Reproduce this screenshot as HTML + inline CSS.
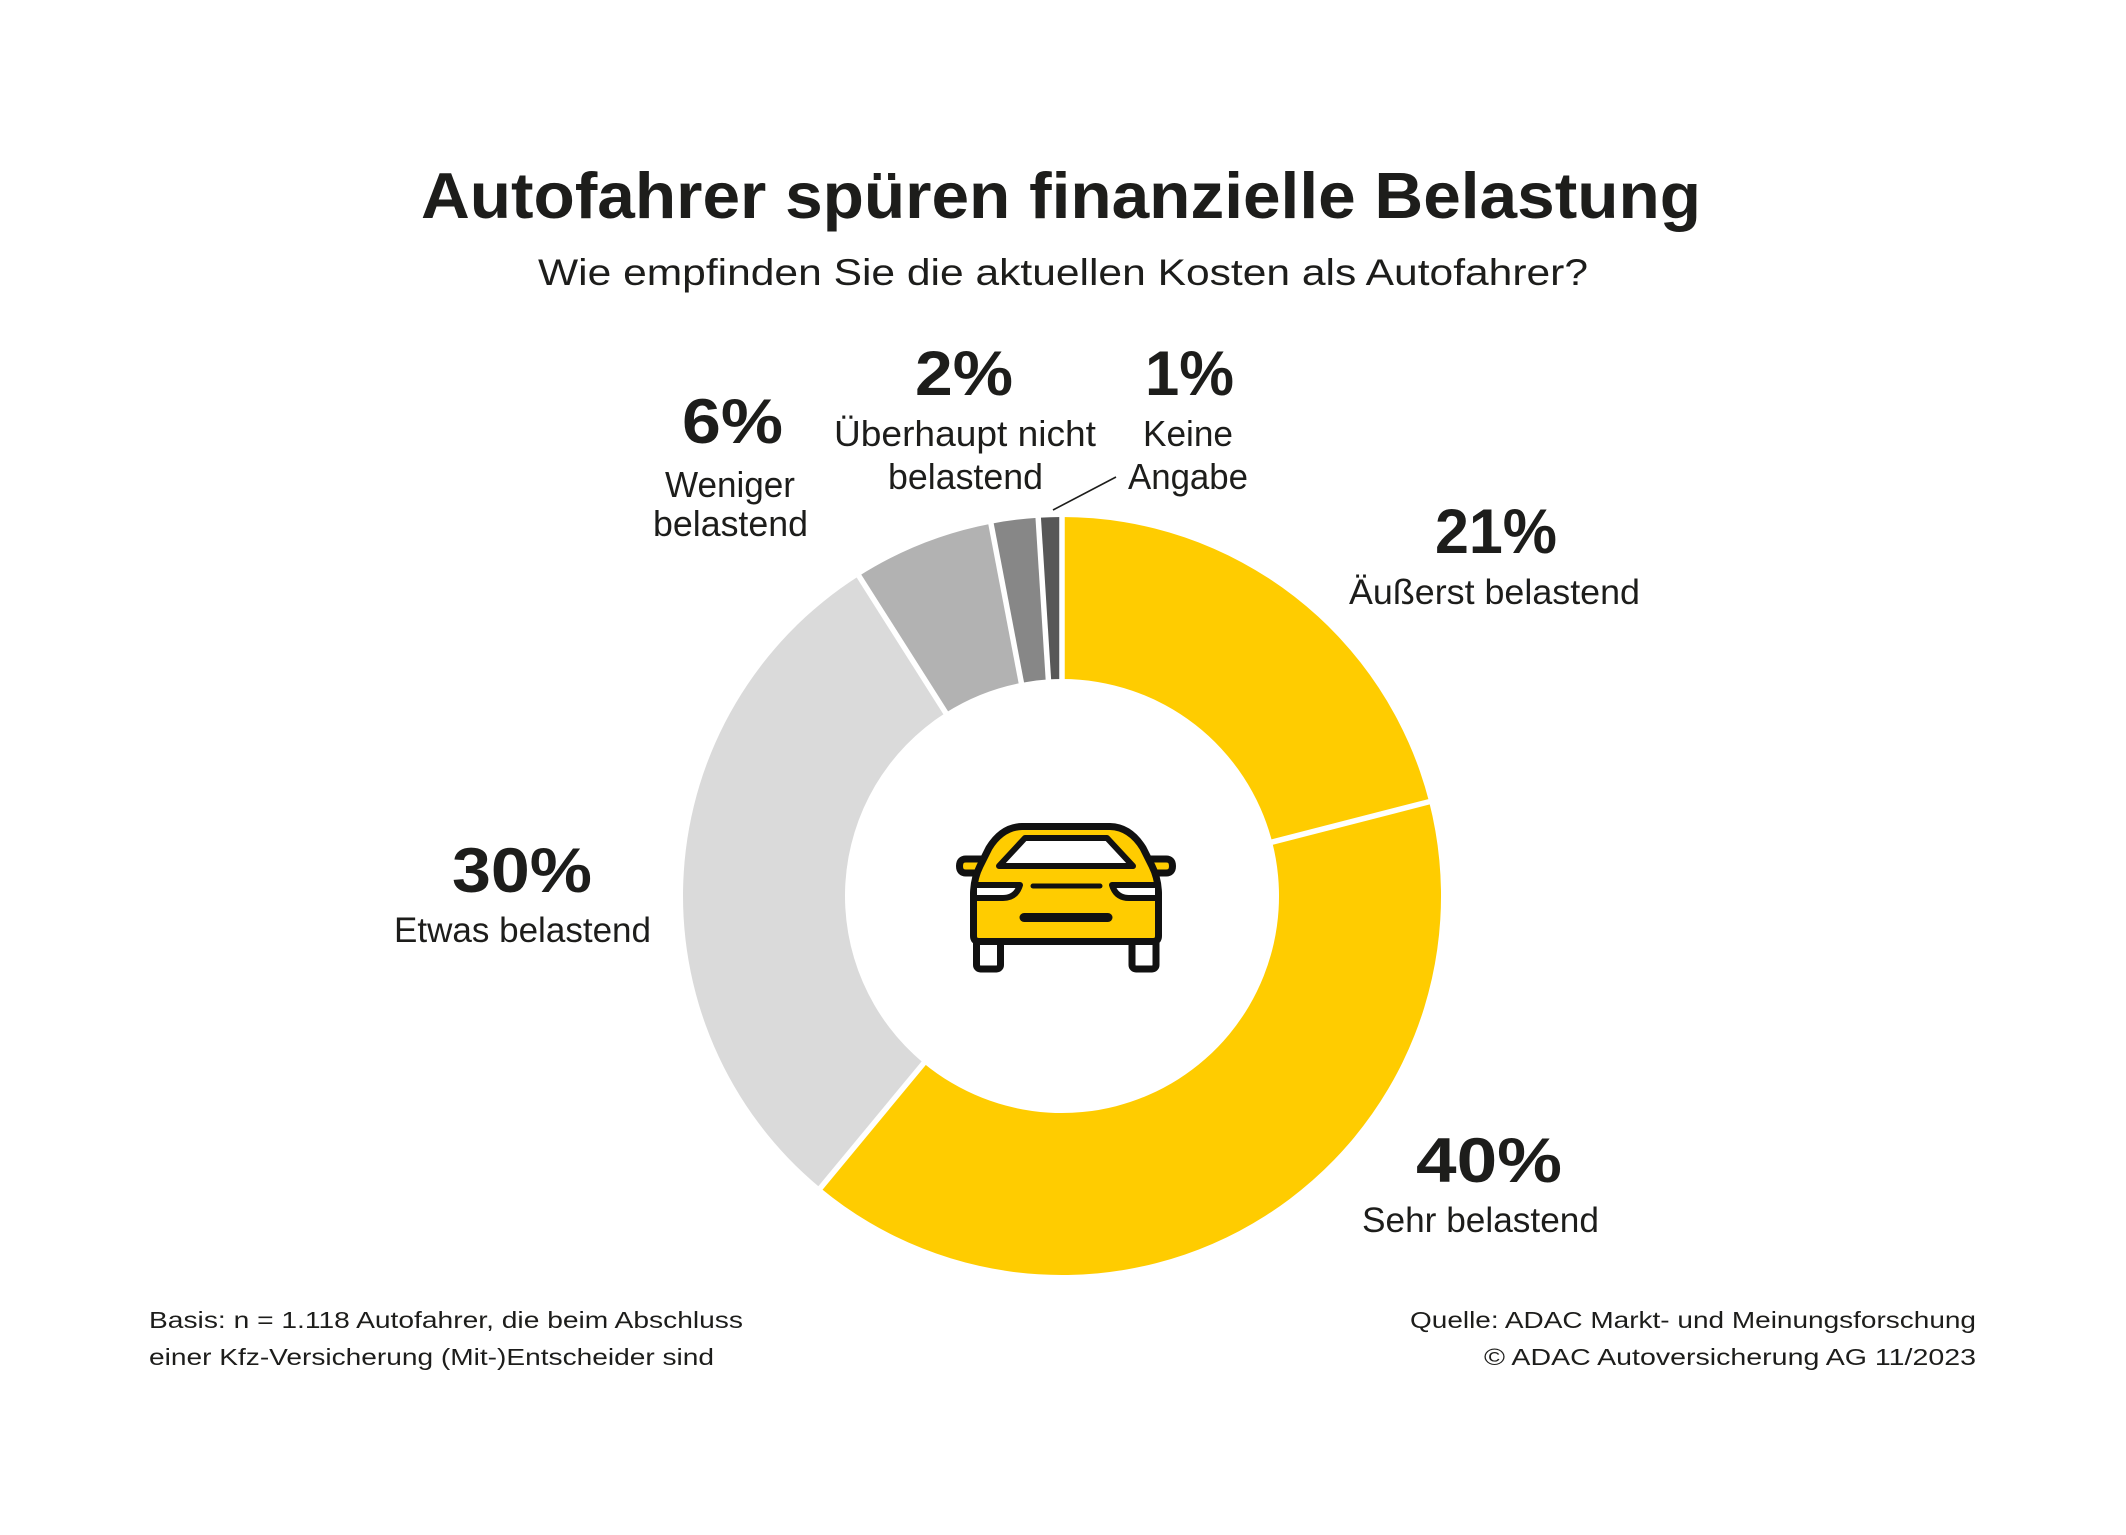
<!DOCTYPE html>
<html>
<head>
<meta charset="utf-8">
<style>
  html,body{margin:0;padding:0;background:#fff;}
  svg{display:block;}
  .t{font-family:"Liberation Sans",sans-serif;fill:#1d1d1b;}
  .b{font-weight:bold;}
</style>
</head>
<body>
<svg width="2126" height="1535" viewBox="0 0 2126 1535" xmlns="http://www.w3.org/2000/svg">
  <rect x="0" y="0" width="2126" height="1535" fill="#ffffff"/>

  <!-- Title & subtitle -->
  <text class="t b" x="421" y="218" font-size="65" textLength="1280" lengthAdjust="spacingAndGlyphs">Autofahrer spüren finanzielle Belastung</text>
  <text class="t" x="538" y="285" font-size="37" textLength="1050" lengthAdjust="spacingAndGlyphs">Wie empfinden Sie die aktuellen Kosten als Autofahrer?</text>

  <!-- Donut slices -->
  <!-- 21% Äußerst belastend -->
  <path d="M1062 517 A379 379 0 0 1 1429.11 801.75 L1272.19 842.03 A217 217 0 0 0 1062 679 Z" fill="#FFCC00"/>
  <!-- 40% Sehr belastend -->
  <path d="M1429.11 801.75 A379 379 0 0 1 820.42 1188.02 L923.68 1063.20 A217 217 0 0 0 1272.19 842.03 Z" fill="#FFCC00"/>
  <!-- 30% Etwas belastend -->
  <path d="M820.42 1188.02 A379 379 0 0 1 858.92 576.0 L945.72 712.78 A217 217 0 0 0 923.68 1063.20 Z" fill="#DADADA"/>
  <!-- 6% Weniger belastend -->
  <path d="M858.92 576.0 A379 379 0 0 1 990.98 523.71 L1021.34 682.84 A217 217 0 0 0 945.72 712.78 Z" fill="#B2B2B2"/>
  <!-- 2% Überhaupt nicht -->
  <path d="M990.98 523.71 A379 379 0 0 1 1038.20 517.75 L1048.37 679.43 A217 217 0 0 0 1021.34 682.84 Z" fill="#878787"/>
  <!-- 1% Keine Angabe -->
  <path d="M1038.20 517.75 A379 379 0 0 1 1062 517 L1062 679 A217 217 0 0 0 1048.37 679.43 Z" fill="#575757"/>

  <!-- separators -->
  <g stroke="#ffffff" stroke-width="5.5" stroke-linecap="butt">
    <line x1="1062" y1="511" x2="1062" y2="685"/>
    <line x1="1434.92" y1="800.25" x2="1266.38" y2="843.53"/>
    <line x1="816.59" y1="1192.65" x2="927.50" y2="1058.58"/>
    <line x1="855.71" y1="570.93" x2="948.94" y2="717.85"/>
    <line x1="989.86" y1="517.82" x2="1022.46" y2="688.74"/>
    <line x1="1037.83" y1="511.76" x2="1048.75" y2="685.42"/>
  </g>

  <!-- leader line for 1% -->
  <line x1="1116" y1="477" x2="1053" y2="510" stroke="#1d1d1b" stroke-width="1.6"/>

  <!-- Car icon -->
  <g stroke="#111111" stroke-width="7" stroke-linejoin="round" stroke-linecap="round">
    <!-- wheels -->
    <rect x="976.5" y="930" width="24" height="39" rx="4" fill="#ffffff"/>
    <rect x="1132" y="930" width="24" height="39" rx="4" fill="#ffffff"/>
    <!-- mirrors -->
    <path d="M990 859 L966 859 Q959.5 859 959.5 866 Q959.5 873 966 873 L988 873 Z" fill="#FFCC00"/>
    <path d="M1142 859 L1166 859 Q1172.5 859 1172.5 866 Q1172.5 873 1166 873 L1144 873 Z" fill="#FFCC00"/>
    <!-- body -->
    <path d="M1022 826.5 L1110 826.5 Q1130 827 1143 848 L1152 866 Q1158 878 1158.5 893 L1158.5 936 Q1158.5 941.5 1153 941.5 L979 941.5 Q973.5 941.5 973.5 936 L973.5 893 Q974 878 980 866 L989 848 Q1002 827 1022 826.5 Z" fill="#FFCC00"/>
    <!-- windshield -->
    <path d="M1025 838 L1107 838 L1133 866 L999 866 Z" fill="#ffffff" stroke-width="6"/>
    <!-- headlights -->
    <path d="M974 885 L1020 885 Q1016 898 1003 898 L974 898 Z" fill="#ffffff" stroke-width="6"/>
    <path d="M1158 885 L1112 885 Q1116 898 1129 898 L1158 898 Z" fill="#ffffff" stroke-width="6"/>
    <!-- grille line -->
    <line x1="1033" y1="886" x2="1100" y2="886" stroke-width="5"/>
    <!-- bottom bar -->
    <line x1="1024" y1="917.5" x2="1108" y2="917.5" stroke-width="9"/>
  </g>

  <!-- Labels: percentages -->
  <text class="t b" x="682" y="443" font-size="63" textLength="101" lengthAdjust="spacingAndGlyphs">6%</text>
  <text class="t b" x="915" y="395" font-size="63" textLength="98" lengthAdjust="spacingAndGlyphs">2%</text>
  <text class="t b" x="1145" y="395" font-size="63" textLength="89" lengthAdjust="spacingAndGlyphs">1%</text>
  <text class="t b" x="1435" y="553" font-size="63" textLength="122" lengthAdjust="spacingAndGlyphs">21%</text>
  <text class="t b" x="452" y="892" font-size="63" textLength="140" lengthAdjust="spacingAndGlyphs">30%</text>
  <text class="t b" x="1416" y="1182" font-size="63" textLength="146" lengthAdjust="spacingAndGlyphs">40%</text>

  <!-- Labels: descriptions -->
  <text class="t" x="665" y="497" font-size="36" textLength="130" lengthAdjust="spacingAndGlyphs">Weniger</text>
  <text class="t" x="653" y="536" font-size="36" textLength="155" lengthAdjust="spacingAndGlyphs">belastend</text>
  <text class="t" x="834" y="446" font-size="36" textLength="262" lengthAdjust="spacingAndGlyphs">Überhaupt nicht</text>
  <text class="t" x="888" y="489" font-size="36" textLength="155" lengthAdjust="spacingAndGlyphs">belastend</text>
  <text class="t" x="1143" y="446" font-size="36" textLength="90" lengthAdjust="spacingAndGlyphs">Keine</text>
  <text class="t" x="1128" y="489" font-size="36" textLength="120" lengthAdjust="spacingAndGlyphs">Angabe</text>
  <text class="t" x="1349" y="604" font-size="35" textLength="291" lengthAdjust="spacingAndGlyphs">Äußerst belastend</text>
  <text class="t" x="394" y="942" font-size="35" textLength="257" lengthAdjust="spacingAndGlyphs">Etwas belastend</text>
  <text class="t" x="1362" y="1232" font-size="35" textLength="237" lengthAdjust="spacingAndGlyphs">Sehr belastend</text>

  <!-- Footer -->
  <text class="t" x="149" y="1328" font-size="23" textLength="594" lengthAdjust="spacingAndGlyphs">Basis: n = 1.118 Autofahrer, die beim Abschluss</text>
  <text class="t" x="149" y="1365" font-size="23" textLength="565" lengthAdjust="spacingAndGlyphs">einer Kfz-Versicherung (Mit-)Entscheider sind</text>
  <text class="t" x="1410" y="1328" font-size="23" textLength="566" lengthAdjust="spacingAndGlyphs">Quelle: ADAC Markt- und Meinungsforschung</text>
  <text class="t" x="1484" y="1365" font-size="23" textLength="492" lengthAdjust="spacingAndGlyphs">© ADAC Autoversicherung AG 11/2023</text>
</svg>
</body>
</html>
